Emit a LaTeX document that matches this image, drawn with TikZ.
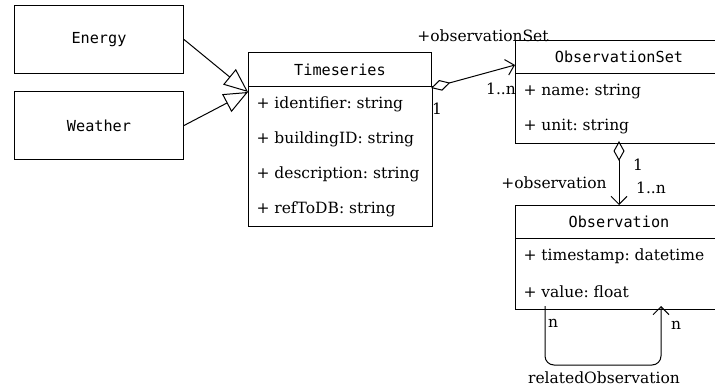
\documentclass[tikz,border=0pt]{standalone}
\usepackage{fontspec}
\setmainfont{DejaVu Serif}
\setmonofont{DejaVu Sans Mono}
\usetikzlibrary{positioning,arrows.meta}
\frenchspacing
\tikzset{
  umltitle/.style={draw,anchor=north west,minimum height=34pt,inner sep=0pt,
    font=\ttfamily\fontsize{15.2}{17}\selectfont},
  umlattr/.style={minimum height=34pt,inner xsep=8pt,inner ysep=0pt,
    font=\fontsize{15.5}{17}\selectfont},
  lbl/.style={font=\fontsize{15.5}{17}\selectfont,inner sep=0pt},
  gen/.style={-{Triangle[open,length=24pt,width=20pt]}},
  aggr/.style={{Diamond[open,length=20pt,width=11pt]}-{Straight Barb[length=8pt,width=16pt]}},
}
\begin{document}
\begin{tikzpicture}[x=1pt,y=-1pt,line width=1pt]
\clip (0,0) rectangle (715,390);
% left classes
\node[umltitle,minimum width=169pt,minimum height=68pt] (energy) at (14,5) {Energy};
\node[umltitle,minimum width=169pt,minimum height=68pt] (weather) at (14,91) {Weather};
% Timeseries
\node[umltitle,minimum width=183pt] (ts) at (248,52) {Timeseries};
\node[umlattr,below right=0pt of ts.south west] (tsid) {+ identifier: string};
\node[umlattr,below right=0pt of tsid.south west] (tsbid) {+ buildingID: string};
\node[umlattr,below right=0pt of tsbid.south west] (tsdesc) {+ description: string};
\node[umlattr,below right=0pt of tsdesc.south west] (tsref) {+ refToDB: string};
\draw (ts.south west) rectangle (ts.east |- tsref.south);
% ObservationSet
\node[umltitle,minimum width=207pt,minimum height=33pt] (oset) at (515,40) {ObservationSet};
\node[umlattr,below right=0pt of oset.south west] (osname) {+ name: string};
\node[umlattr,below right=0pt of osname.south west] (osunit) {+ unit: string};
\draw (oset.south west) rectangle (oset.east |- osunit.south);
% Observation
\node[umltitle,minimum width=207pt,minimum height=33pt] (obs) at (515,205) {Observation};
\node[umlattr,below right=0pt of obs.south west] (obtime) {+ timestamp: datetime};
\node[umlattr,below right=0pt of obtime.south west] (obval) {+ value: float};
\draw (obs.south west) rectangle (obs.east |- obval.south);
% connector ends
\coordinate (tsin) at (248,92);
\coordinate (tsout) at (431,88);
\coordinate (osin) at (515,65);
\coordinate (osout) at (619,141);
\coordinate (obin) at (619,205);
\coordinate (loopa) at (545,306);
\coordinate (loopb) at (661,306);
% generalisations
\draw[gen] (energy.east) -- (tsin);
\draw[gen] (weather.east) -- (tsin);
% aggregations
\draw[aggr] (tsout) -- (osin);
\draw[aggr] (osout) -- (obin);
\draw[-{Straight Barb[length=8pt,width=16pt]},rounded corners=9pt] (loopa) -- (545,365) -- (661,365) -- (loopb);
% labels
\node[lbl] (lset) at (483,36) {+observationSet};
\node[lbl] (lone) at (437,109) {1};
\node[lbl] (lmany) at (501,89) {1..n};
\node[lbl] (lobs) at (554,183) {+observation};
\node[lbl] (lone2) at (638,165) {1};
\node[lbl] (lmany2) at (651,188) {1..n};
\node[lbl] (ln1) at (553,323) {n};
\node[lbl] (ln2) at (676,325) {n};
\node[lbl] (lrel) at (604,378) {relatedObservation};
\end{tikzpicture}
\end{document}
